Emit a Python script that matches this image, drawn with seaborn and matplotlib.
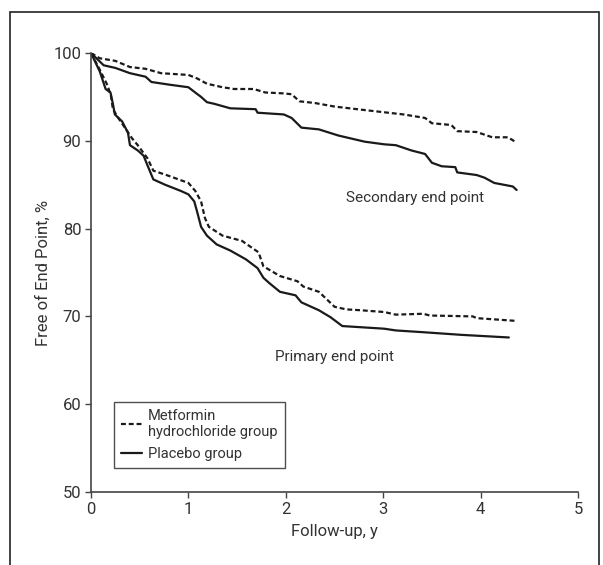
import numpy as np
import pandas as pd
import seaborn as sns
from matplotlib import pyplot as plt
from matplotlib.lines import Line2D
from matplotlib.patches import Rectangle

# secondary end point, placebo (solid)
sec_plac_t = [0, 0.13, 0.25, 0.40, 0.56, 0.62, 0.80, 1.00, 1.07, 1.13, 1.19, 1.27, 1.43, 1.69, 1.71,
              1.98, 2.06, 2.16, 2.34, 2.54, 2.81, 3.01, 3.13, 3.29, 3.43, 3.50, 3.60, 3.74, 3.76,
              3.96, 4.04, 4.14, 4.33, 4.37]
sec_plac_s = [100, 98.6, 98.3, 97.7, 97.3, 96.7, 96.4, 96.1, 95.5, 95.0, 94.4, 94.2, 93.7, 93.6, 93.2,
              93.0, 92.6, 91.5, 91.3, 90.6, 89.9, 89.6, 89.5, 88.9, 88.5, 87.5, 87.1, 87.0, 86.4,
              86.1, 85.8, 85.2, 84.8, 84.4]

# secondary end point, metformin (dashed)
sec_met_t = [0, 0.09, 0.25, 0.40, 0.56, 0.72, 1.00, 1.09, 1.19, 1.35, 1.47, 1.67, 1.79, 1.98, 2.06,
             2.14, 2.30, 2.50, 2.81, 3.21, 3.43, 3.50, 3.70, 3.76, 3.96, 4.12, 4.28, 4.37]
sec_met_s = [100, 99.4, 99.1, 98.4, 98.2, 97.7, 97.5, 97.1, 96.5, 96.1, 95.9, 95.9, 95.5, 95.4, 95.3,
             94.5, 94.3, 93.9, 93.5, 93.0, 92.6, 92.0, 91.8, 91.1, 91.0, 90.4, 90.4, 89.8]

# primary end point, placebo (solid)
pri_plac_t = [0, 0.09, 0.15, 0.20, 0.225, 0.245, 0.32, 0.38, 0.40, 0.48, 0.54, 0.58, 0.64, 0.76,
              0.92, 1.00, 1.06, 1.09, 1.13, 1.19, 1.29, 1.43, 1.59, 1.71, 1.77, 1.83, 1.94, 2.10,
              2.16, 2.34, 2.46, 2.58, 3.01, 3.13, 3.41, 3.80, 4.29]
pri_plac_s = [100, 97.9, 95.9, 95.5, 94.2, 93.0, 92.2, 90.9, 89.5, 88.9, 88.3, 87.2, 85.6, 85.0,
              84.3, 83.9, 83.1, 81.9, 80.2, 79.2, 78.2, 77.5, 76.5, 75.5, 74.4, 73.8, 72.8, 72.4,
              71.6, 70.7, 69.9, 68.9, 68.6, 68.4, 68.2, 67.9, 67.6]

# primary end point, metformin (dashed)
pri_met_t = [0, 0.09, 0.17, 0.205, 0.225, 0.28, 0.36, 0.42, 0.48, 0.58, 0.64, 0.80, 1.00, 1.07,
             1.13, 1.17, 1.21, 1.35, 1.55, 1.72, 1.77, 1.94, 2.12, 2.18, 2.34, 2.50, 2.62, 2.77,
             3.01, 3.13, 3.41, 3.48, 3.92, 3.96, 4.35]
pri_met_s = [100, 98.1, 96.3, 95.1, 93.6, 92.6, 91.3, 90.3, 89.5, 88.0, 86.6, 86.0, 85.2, 84.3,
             83.1, 81.2, 80.2, 79.2, 78.6, 77.3, 75.7, 74.6, 74.0, 73.4, 72.8, 71.1, 70.8, 70.7,
             70.5, 70.2, 70.3, 70.1, 70.0, 69.8, 69.5]

x_ticks = [0, 1, 2, 3, 4, 5]
y_ticks = [50, 60, 70, 80, 90, 100]
legend_labels = ["Metformin\nhydrochloride group", "Placebo group"]

sns.set_style("ticks")
plt.rcParams['font.family'] = ['Roboto', 'DejaVu Sans']
txt = "#333333"

fig = plt.figure(figsize=(6.03, 5.65), dpi=100)
ax = fig.add_axes([91 / 603, 1 - 492 / 565, 487 / 603, 439 / 565])

ls_solid = "-"
ls_dash = (0, (2.2, 1.3))
for t, s, dash in [(sec_met_t, sec_met_s, True), (sec_plac_t, sec_plac_s, False),
                   (pri_met_t, pri_met_s, True), (pri_plac_t, pri_plac_s, False)]:
    df = pd.DataFrame({"t": t, "s": s})
    sns.lineplot(data=df, x="t", y="s", ax=ax, color="#1a1a1a", lw=1.6,
                 linestyle=ls_dash if dash else ls_solid, estimator=None, sort=False)

ax.set_xlim(0, 5)
ax.set_ylim(50, 100)
ax.set_xticks(x_ticks)
ax.set_yticks(y_ticks)
ax.tick_params(colors="#444444", labelcolor=txt, labelsize=12, length=4, width=1, pad=3)
for sp in ["left", "bottom"]:
    ax.spines[sp].set_color("#444444")
    ax.spines[sp].set_linewidth(1.2)
sns.despine(ax=ax)
ax.set_xlabel("Follow-up, y", fontsize=12, color=txt, labelpad=5)
ax.set_ylabel("Free of End Point, %", fontsize=12, color=txt, labelpad=2)

ax.text(3.33, 83.5, "Secondary end point", fontsize=11, color=txt, ha="center", va="center")
ax.text(2.50, 65.4, "Primary end point", fontsize=11, color=txt, ha="center", va="center")

handles = [Line2D([], [], color="#1a1a1a", lw=1.6, linestyle=ls_dash),
           Line2D([], [], color="#1a1a1a", lw=1.6, linestyle=ls_solid)]
leg = ax.legend(handles, legend_labels, loc="upper left", bbox_to_anchor=(0.047, 0.206),
                fontsize=10.5, frameon=True, fancybox=False, handlelength=1.4, handletextpad=0.45,
                borderpad=0.5, labelspacing=0.55, borderaxespad=0)
leg.get_frame().set_edgecolor("#222222")
leg.get_frame().set_linewidth(1)
for tx in leg.get_texts():
    tx.set_color(txt)

# outer frame around the figure
fig.patches.append(Rectangle((10 / 603, -0.05), 589 / 603, 1.05 - 12 / 565, transform=fig.transFigure,
                             fill=False, edgecolor="#222222", lw=1.2))

fig.savefig("out.png", dpi=100)
